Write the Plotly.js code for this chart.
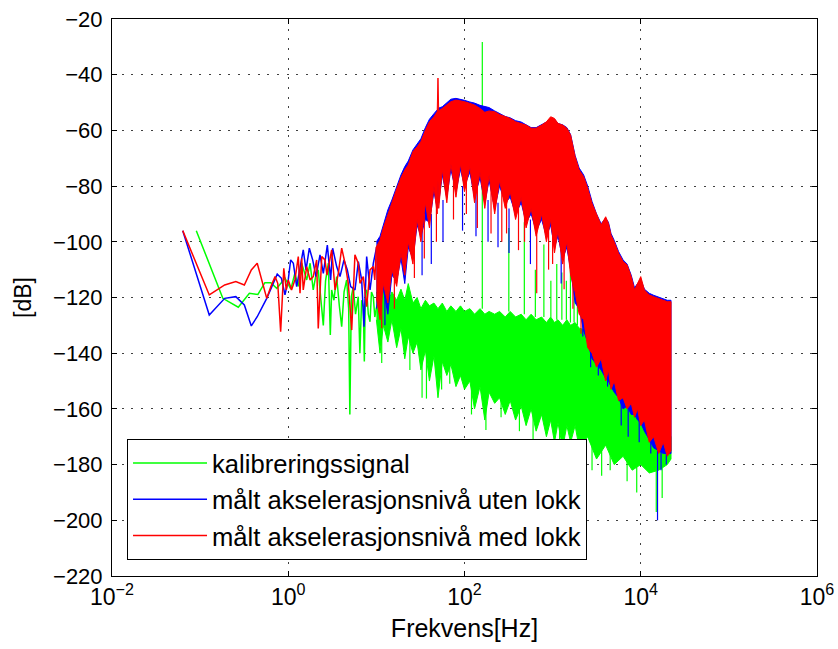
<!DOCTYPE html>
<html>
<head>
<meta charset="utf-8">
<script src="https://cdn.plot.ly/plotly-3.0.1.min.js"></script>
<style>
  html, body { margin: 0; padding: 0; background: #fff; }
  #chart { width: 838px; height: 649px; }
</style>
</head>
<body>
<div id="chart"></div>
<script>
// ---------- Low-frequency spectrum lines (Hz, dB) ----------
const greenLoF = [0.0905,0.181,0.271,0.362,0.4525, 0.543,0.634,0.74,0.92,1.07,
                  1.19,1.3,1.42,1.62,1.77, 1.92,2.06,2.19,2.35,2.5,
                  2.65,2.85,3.0,3.11,3.3, 3.54,3.8,4.04,4.3,4.6,
                  4.85,5.0,5.2,5.47,5.8, 6.23,6.5,6.8,7.11,7.3,
                  7.5,7.76,8.1,8.47,8.8, 9.23,9.6,10.08];
const greenLoDb = [-96,-120.3,-123.5,-118.5,-118.9, -114.7,-114.7,-116.7,-113.1,-117,
                   -111.3,-116,-107.7,-113.7,-107.7, -117.3,-112,-110.1,-121,-130,
                   -114,-107.7,-133.5,-117.3,-121, -112.5,-123,-130.5,-118,-113.7,
                   -124,-162,-119.7,-116.1,-126, -119.7,-140,-121,-123.3,-143,
                   -118,-117.3,-126,-128.7,-118, -119.7,-127,-123.3];

const blueLoF = [0.0635,0.127,0.19,0.254,0.3175, 0.381,0.4445,0.57,0.75,0.837,
                 0.918,1.0,1.065,1.142,1.246, 1.336,1.48,1.59,1.735,1.893,
                 2.065,2.293,2.5,2.776,3.028, 3.19,3.544,3.865,4.29,4.68,
                 5.11,5.72,6.24,6.81,7.24, 7.76,8.47,9.24,10.08];
const blueLoDb = [-96,-126.3,-120.3,-119.7,-122.7, -130.2,-126.9,-120.3,-111.6,-113.1,
                  -119,-113.7,-106.5,-107.7,-116.1, -110.1,-102.9,-110.1,-102.3,-106.5,
                  -112.5,-104.7,-111.3,-101.2,-113.7, -102.3,-108.9,-112.5,-106.5,-110.1,
                  -116.1,-117.3,-107.1,-113.7,-130.5, -105.3,-117.3,-107.7,-101.8];

const redLoF = [0.0635,0.127,0.19,0.254,0.3175, 0.381,0.4445,0.57,0.635,0.708,
                0.76,0.82,0.89,0.95,1.0, 1.09,1.19,1.3,1.36,1.42,
                1.48,1.62,1.77,1.92,2.10, 2.19,2.40,2.61,2.75,2.85,
                3.11,3.40,3.70,4.04,4.41, 4.80,5.25,5.71,6.23,6.51,
                7.11,7.76,8.47,9.23,9.6, 10.0];
const redLoDb = [-96,-119.1,-115.5,-114.3,-115.5, -110.1,-107.7,-120.3,-116.1,-112.5,
                 -114.9,-132.3,-109.5,-117.3,-113.7, -117.3,-113.7,-105.3,-118.5,-105.9,
                 -117.3,-108.9,-113.7,-112.5,-106.5, -131.1,-105.3,-106.5,-112,-108.9,
                 -102.9,-117.3,-111.3,-102.3,-107.7, -114.9,-131.7,-104.7,-107.7,-114.9,
                 -112.5,-123.3,-110.1,-108.9,-113.7, -101.8];

// ---------- Dense part: upper / lower envelopes (dB) ----------
const bandF = [10,11,12,13.5,15,17,19,21,23,26,
               29,32,36,40,45,49,50,51,56,63,
               70,80,90,100,115,130,150,170,190,220,
               250,290,330,380,440,500,570,650,750,850,
               950,1050,1150,1300,1450,1600,1800,2000,2250,2500,
               2800,3150,3550,4000,4300,4600,5000,5600,6300,7000,
               7800,8500,9200,10000,11000,12500,14000,16000,18000,20000,
               22050];
const redTop = [-101.8,-99.4,-95,-90,-86,-81,-77,-74.2,-72.4,-67.6,
                -65.9,-64,-59.9,-56.9,-55.1,-53.3,-41.2,-53,-52.1,-50.9,
                -49.7,-49.1,-49.3,-49.7,-50.3,-50.9,-52.1,-53.5,-53,-53.3,
                -54.3,-55.1,-55.7,-56.9,-57.5,-58.1,-59.2,-59.2,-58.1,-56.9,
                -55.1,-55.7,-57.5,-58.1,-59.2,-61.7,-69.4,-74.2,-76.6,-80.8,
                -86.2,-90.4,-94,-91,-93.4,-97.6,-100,-104.1,-107.1,-108.3,
                -112.5,-117.3,-114.9,-112.5,-117.3,-119.1,-119.7,-120.3,-120.9,-121.5,
                -121.5];
const redBot = [-120,-128,-115,-122,-110,-116,-104,-112,-100,-108,
                -92,-100,-86,-95,-80,-90,-78,-88,-74,-86,
                -72,-84,-72,-82,-73,-86,-75,-88,-76,-90,
                -78,-88,-82,-92,-84,-95,-88,-98,-90,-100,
                -92,-104,-96,-108,-100,-112,-118,-126,-128,-138,
                -140,-145,-142,-150,-146,-153,-150,-157,-156,-160,
                -158,-163,-160,-166,-164,-172,-170,-176,-172,-177,
                -175];
const blueTop = [-100,-98,-94,-88.5,-85,-80,-76,-73,-71,-67,
                 -65,-63,-59,-56,-54,-52.5,-52,-52,-51.5,-50,
                 -48.8,-48.5,-48.8,-49.2,-49.8,-50.2,-51,-51.5,-51.8,-53,
                 -54,-55,-55.5,-56.5,-57,-58,-59,-59,-58,-57,
                 -56,-56,-57.5,-58,-59,-61.5,-69,-73.5,-76,-80,
                 -85.5,-90,-93.5,-91.5,-93,-97,-99.5,-103.5,-106.5,-108,
                 -112,-116.5,-115,-113.5,-117,-118.5,-119.2,-119.8,-120.5,-121,
                 -121];
const blueBot = [-124,-118,-117,-126,-112,-114,-106,-115,-102,-106,
                 -94,-98,-92,-93,-82,-88,-80,-86,-76,-84,
                 -74,-82,-74,-80,-75,-84,-77,-86,-78,-88,
                 -80,-86,-84,-90,-86,-93,-90,-96,-92,-98,
                 -94,-102,-98,-106,-102,-110,-122,-124,-132,-136,
                 -142,-144,-146,-149,-150,-152,-154,-156,-160,-159,
                 -162,-162,-164,-165,-168,-171,-174,-175,-176,-176,
                 -176];

const greenF = [10,11,12,13.5,15,17,19,21,23,26,
                29,32,36,40,45,50,56,63,70,80,
                90,100,115,130,150,170,190,220,250,290,
                330,380,440,500,570,650,750,850,950,1050,
                1150,1300,1450,1600,1800,2000,2500,3150,4000,5000,
                6300,8000,10000,12500,16000,20000,22050];
const greenTop = [-118,-121,-117,-122,-118,-121,-117,-121,-115,-122,
                  -120,-124,-121,-123,-122,-124,-122,-125,-123,-125,
                  -123,-125,-124,-126,-124,-126,-125,-126,-125,-127,
                  -125,-127,-126,-128,-126,-128,-127,-129,-127,-129,
                  -128,-130,-128,-130,-129,-131,-132,-134,-137,-140,
                  -144,-150,-155,-160,-165,-168,-170];
const greenBot = [-128,-140,-130,-136,-128,-138,-131,-142,-134,-140,
                  -136,-146,-139,-150,-141,-156,-143,-148,-144,-152,
                  -148,-153,-150,-160,-152,-164,-154,-158,-156,-162,
                  -157,-164,-159,-166,-160,-168,-162,-170,-164,-172,
                  -165,-174,-166,-172,-166,-174,-170,-178,-173,-180,
                  -177,-182,-180,-183,-182,-180,-178];

// ---------- Isolated spectral lines: frequency, upper dB, lower dB ----------
const redSpikeF   = [11.5,16,27,35,48,75,105,140,200,265,300,410,480,660,900,1000,1350,1700,2100];
const redSpikeTop = [-112,-108,-98,-90,-85,-78,-78,-80,-80,-82,-85,-86,-88,-92,-95,-96,-102,-110,-120];
const redSpikeBot = [-131,-124,-113,-106,-100,-92,-90,-95,-97,-100,-97,-103,-100,-118.5,-110,-108,-117,-124,-133];

const blueSpikeF   = [12.5,33,42,57,95,135,185,240,320,560,1250,2200,2700,3300,4200,6000,7200,9600,13000,15500,17000,19500];
const blueSpikeTop = [-110,-95,-90,-85,-80,-82,-85,-86,-88,-92,-100,-120,-130,-135,-140,-150,-155,-160,-165,-170,-172,-172];
const blueSpikeBot = [-130,-112,-108,-100,-96,-98,-100,-102,-104,-108,-115,-134,-145,-148,-152,-166,-170,-172,-176,-200,-182,-180];

const greenSpikeF   = [11.5,24,33,37,55,68,120,175,260,420,600,1200,2300,2800,3600,4500,7000,9000,15000,17500];
const greenSpikeTop = [-125,-128,-135,-136,-140,-142,-145,-148,-150,-155,-158,-165,-168,-170,-172,-174,-176,-178,-180,-180];
const greenSpikeBot = [-143.5,-146,-156,-156.3,-153,-151,-162,-167.6,-163,-168,-172,-178,-180,-182,-184,-182,-186,-190,-197,-192];

// calibration tone at 159.2 Hz and its harmonics
const harmF   = [159.2,318.4,477.5,636.7,795.8,955,1114,1273,1432,1592,1751,1910];
const harmTop = [-28.3,-95,-93,-110,-101,-114,-108,-111,-114,-110,-114,-116];
const harmBot = [-124,-125,-126,-127,-127,-127,-128,-128,-128,-129,-129,-130];

const GREEN = '#00ff00', BLUE = '#0000ff', RED = '#ff0000';

function lineTrace(name, f, db, color) {
  return { type: 'scatter', mode: 'lines', name: name, x: f, y: db,
           line: { color: color, width: 1.5 }, hoverinfo: 'skip' };
}
function bandTrace(f, top, bot, color) {
  const x = f.concat(f.slice().reverse());
  const y = top.concat(bot.slice().reverse());
  return { type: 'scatter', mode: 'lines', x: x, y: y, fill: 'toself',
           fillcolor: color, line: { color: color, width: 1 },
           showlegend: false, hoverinfo: 'skip' };
}
function spikeTrace(f, top, bot, color) {
  const x = [], y = [];
  f.forEach((v, i) => { x.push(v, v, null); y.push(top[i], bot[i], null); });
  return { type: 'scatter', mode: 'lines', x: x, y: y,
           line: { color: color, width: 1.2 }, showlegend: false, hoverinfo: 'skip' };
}

const traces = [
  lineTrace('kalibreringssignal', greenLoF, greenLoDb, GREEN),
  bandTrace(greenF, greenTop, greenBot, GREEN),
  spikeTrace(greenSpikeF, greenSpikeTop, greenSpikeBot, GREEN),
  spikeTrace(harmF, harmTop, harmBot, GREEN),
  lineTrace('målt akselerasjonsnivå uten lokk', blueLoF, blueLoDb, BLUE),
  bandTrace(bandF, blueTop, blueBot, BLUE),
  spikeTrace(blueSpikeF, blueSpikeTop, blueSpikeBot, BLUE),
  lineTrace('målt akselerasjonsnivå med lokk', redLoF, redLoDb, RED),
  bandTrace(bandF, redTop, redBot, RED),
  spikeTrace(redSpikeF, redSpikeTop, redSpikeBot, RED)
];

const FONT = 'Liberation Sans, Arial, Helvetica, sans-serif';
const gridDash = '2px,7.7px';

const layout = {
  width: 838, height: 649,
  margin: { l: 112, r: 21, t: 19, b: 73 },
  paper_bgcolor: '#ffffff', plot_bgcolor: '#ffffff',
  font: { family: FONT, color: '#000', size: 20 },
  showlegend: true,
  legend: {
    x: 0.0213, y: 0.029, xanchor: 'left', yanchor: 'bottom',
    bgcolor: '#ffffff', bordercolor: '#000', borderwidth: 1,
    font: { family: FONT, size: 25.6, color: '#000' },
    itemwidth: 74
  },
  xaxis: {
    type: 'log', range: [-2, 6],
    tickvals: [0.01, 1, 100, 10000, 1000000],
    ticktext: ['10<sup>−2</sup>', '10<sup>0</sup>', '10<sup>2</sup>', '10<sup>4</sup>', '10<sup>6</sup>'],
    tickfont: { family: FONT, size: 23, color: '#000' },
    ticks: 'inside', ticklen: 5, tickcolor: '#000',
    showline: true, linecolor: '#000', linewidth: 1, mirror: 'ticks',
    showgrid: true, gridcolor: 'rgba(0,0,0,0.75)', gridwidth: 1, griddash: gridDash,
    zeroline: false,
    title: { text: 'Frekvens[Hz]', font: { family: FONT, size: 25, color: '#000' }, standoff: 10 }
  },
  yaxis: {
    range: [-220, -20], tick0: -220, dtick: 20,
    tickfont: { family: FONT, size: 22, color: '#000' },
    ticks: 'inside', ticklen: 5, tickcolor: '#000', ticklabelstandoff: 4,
    showline: true, linecolor: '#000', linewidth: 1, mirror: 'ticks',
    showgrid: true, gridcolor: 'rgba(0,0,0,0.75)', gridwidth: 1, griddash: gridDash,
    zeroline: false,
    title: { text: '[dB]', font: { family: FONT, size: 23, color: '#000' }, standoff: 14 }
  }
};

Plotly.newPlot('chart', traces, layout, { displayModeBar: false, staticPlot: true });
</script>
</body>
</html>
